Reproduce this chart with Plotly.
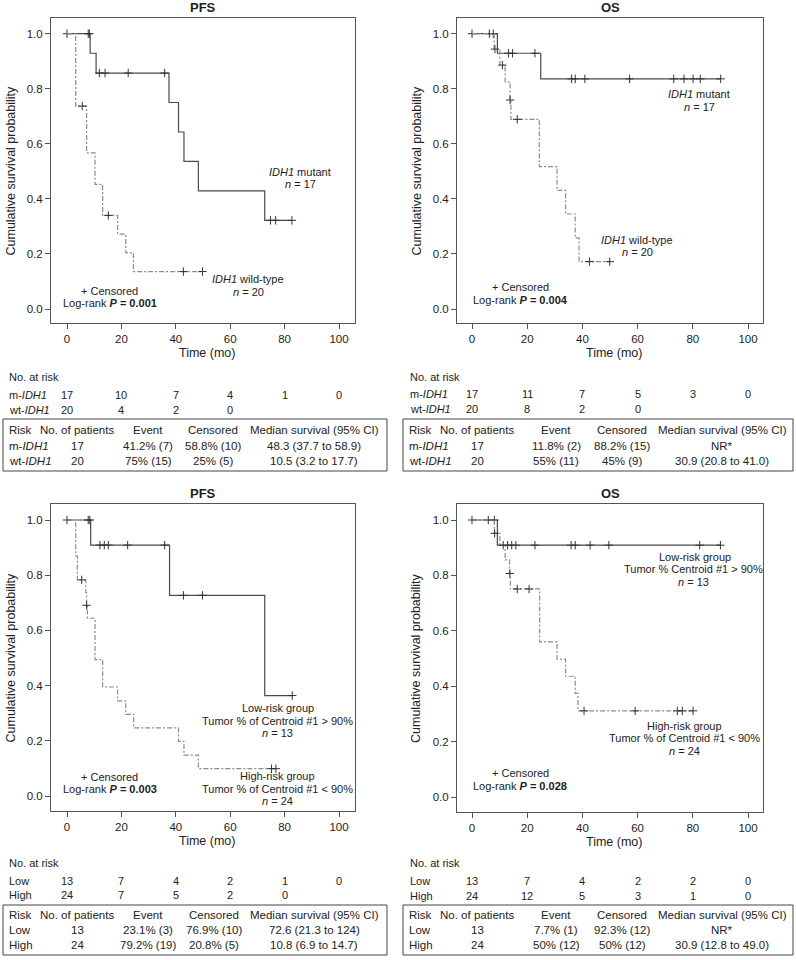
import plotly.graph_objects as go

W, H = 796, 960
FONT = "Liberation Sans, Arial, Helvetica, sans-serif"
TXT = "#222222"
AX = "#555555"
MUT_COLOR = "#4a4a4a"
WT_COLOR = "#8c8c8c"
CENS_COLOR = "#333333"

# ---------------- data ----------------
time_ticks = [0, 20, 40, 60, 80, 100]
surv_ticks = [0.0, 0.2, 0.4, 0.6, 0.8, 1.0]
surv_tick_labels = ["0.0", "0.2", "0.4", "0.6", "0.8", "1.0"]

# Panel 1: PFS by IDH1
pfs_mut_drop_t = [8.5, 10.7, 37.5, 41.0, 43.0, 48.3, 72.7]
pfs_mut_surv = [0.929, 0.857, 0.750, 0.643, 0.536, 0.429, 0.322]
pfs_mut_cens_t = [0, 7.8, 8.2, 11.9, 14.0, 22.5, 35.9, 74.8, 76.7, 82.7]
pfs_wt_drop_t = [3.2, 7.2, 10.3, 13.1, 18.6, 21.6, 24.4]
pfs_wt_surv = [0.737, 0.567, 0.453, 0.340, 0.272, 0.204, 0.136]
pfs_wt_cens_t = [5.6, 15.2, 42.8, 49.8]

# Panel 2: OS by IDH1
os_mut_drop_t = [9.2, 24.9]
os_mut_surv = [0.929, 0.836]
os_mut_cens_t = [0, 6.3, 7.7, 13.2, 14.7, 22.8, 36.1, 37.4, 40.9, 57.1, 73.1, 76.8, 80.1, 82.7, 90.1]
os_wt_drop_t = [8.0, 10.1, 12.0, 13.8, 14.1, 24.4, 30.8, 33.9, 37.4, 38.8]
os_wt_surv = [0.944, 0.886, 0.825, 0.759, 0.689, 0.517, 0.431, 0.345, 0.258, 0.172]
os_wt_cens_t = [8.3, 11.0, 13.8, 16.4, 42.6, 49.9]

# Panel 3: PFS by risk group
pfs_low_drop_t = [8.7, 37.7, 72.7]
pfs_low_surv = [0.909, 0.727, 0.364]
pfs_low_cens_t = [0, 7.8, 8.4, 12.1, 13.7, 15.2, 22.3, 35.9, 42.8, 49.8, 82.8]
pfs_high_drop_t = [3.2, 3.8, 6.9, 7.2, 7.5, 10.3, 13.1, 18.6, 21.6, 24.5, 41.0, 43.0, 48.3]
pfs_high_surv = [0.870, 0.783, 0.737, 0.691, 0.644, 0.494, 0.395, 0.345, 0.296, 0.247, 0.198, 0.148, 0.099]
pfs_high_cens_t = [5.4, 7.2, 75.2, 76.8]

# Panel 4: OS by risk group
os_low_drop_t = [9.2]
os_low_surv = [0.909]
os_low_cens_t = [0, 5.9, 8.1, 12.9, 14.4, 15.9, 22.8, 35.9, 37.4, 42.8, 49.6, 82.5, 90.0]
os_high_drop_t = [8.1, 10.1, 12.0, 13.6, 13.9, 24.5, 30.8, 33.9, 37.4, 38.4]
os_high_surv = [0.952, 0.909, 0.856, 0.807, 0.751, 0.560, 0.498, 0.436, 0.374, 0.311]
os_high_cens_t = [8.2, 11.3, 13.7, 16.4, 20.7, 40.6, 59.1, 74.4, 76.2, 80.1]

# Numbers at risk
risk_times = [0, 20, 40, 60, 80, 100]
pfs_risk_mut = [17, 10, 7, 4, 1, 0]
pfs_risk_wt = [20, 4, 2, 0]
os_risk_mut = [17, 11, 7, 5, 3, 0]
os_risk_wt = [20, 8, 2, 0]
pfs_risk_low = [13, 7, 4, 2, 1, 0]
pfs_risk_high = [24, 7, 5, 2, 0]
os_risk_low = [13, 7, 4, 2, 2, 0]
os_risk_high = [24, 12, 5, 3, 1, 0]

# Summary tables
table_header = ["Risk", "No. of patients", "Event", "Censored", "Median survival (95% CI)"]
pfs_idh_rows = [["m-<i>IDH1</i>", "17", "41.2% (7)", "58.8% (10)", "48.3 (37.7 to 58.9)"],
                ["wt-<i>IDH1</i>", "20", "75% (15)", "25% (5)", "10.5 (3.2 to 17.7)"]]
os_idh_rows = [["m-<i>IDH1</i>", "17", "11.8% (2)", "88.2% (15)", "NR*"],
               ["wt-<i>IDH1</i>", "20", "55% (11)", "45% (9)", "30.9 (20.8 to 41.0)"]]
pfs_grp_rows = [["Low", "13", "23.1% (3)", "76.9% (10)", "72.6 (21.3 to 124)"],
                ["High", "24", "79.2% (19)", "20.8% (5)", "10.8 (6.9 to 14.7)"]]
os_grp_rows = [["Low", "13", "7.7% (1)", "92.3% (12)", "NR*"],
               ["High", "24", "50% (12)", "50% (12)", "30.9 (12.8 to 49.0)"]]

# ---------------- helpers ----------------
def X(px):
    return px / W

def Y(py):
    return 1 - py / H

def step_curve(drop_t, surv, cens_t):
    end = max(max(cens_t) if cens_t else 0, drop_t[-1])
    xs = [0] + list(drop_t) + [end]
    ys = [1.0] + list(surv) + [surv[-1]]
    cy = []
    for t in cens_t:
        s = 1.0
        for dt, sv in zip(drop_t, surv):
            if dt <= t:
                s = sv
        cy.append(s)
    return xs, ys, cy

panels = [
    dict(box=(51, 18, 355, 323), x0=67, x100=339, y1=33.7, y0=309, title="PFS",
         curves=[(pfs_mut_drop_t, pfs_mut_surv, pfs_mut_cens_t, "solid"),
                 (pfs_wt_drop_t, pfs_wt_surv, pfs_wt_cens_t, "dash")]),
    dict(box=(457, 18, 763, 323), x0=472, x100=748, y1=33.7, y0=309, title="OS",
         curves=[(os_mut_drop_t, os_mut_surv, os_mut_cens_t, "solid"),
                 (os_wt_drop_t, os_wt_surv, os_wt_cens_t, "dash")]),
    dict(box=(51, 504, 355, 811), x0=67, x100=339, y1=520, y0=796, title="PFS",
         curves=[(pfs_low_drop_t, pfs_low_surv, pfs_low_cens_t, "solid"),
                 (pfs_high_drop_t, pfs_high_surv, pfs_high_cens_t, "dash")]),
    dict(box=(457, 504, 763, 812), x0=472, x100=748, y1=520, y0=797, title="OS",
         curves=[(os_low_drop_t, os_low_surv, os_low_cens_t, "solid"),
                 (os_high_drop_t, os_high_surv, os_high_cens_t, "dash")]),
]

fig = go.Figure()
layout = dict(
    width=W, height=H, margin=dict(l=0, r=0, t=0, b=0),
    paper_bgcolor="white", plot_bgcolor="white", showlegend=False,
    font=dict(family=FONT, color=TXT, size=11),
)
annotations = []
shapes = []

def ann(text, x, y, xanchor="center", size=11, xref="paper", yref="paper", angle=0):
    annotations.append(dict(text=text, x=x, y=y, xref=xref, yref=yref, xanchor=xanchor,
                            yanchor="middle", showarrow=False, textangle=angle,
                            font=dict(family=FONT, size=size, color=TXT)))

for i, p in enumerate(panels, start=1):
    l, t, r, b = p["box"]
    sx = (p["x100"] - p["x0"]) / 100.0
    sy = (p["y0"] - p["y1"])
    xr = [(l - p["x0"]) / sx, (r - p["x0"]) / sx]
    yr = [(p["y0"] - b) / sy, (p["y0"] - t) / sy]
    sfx = "" if i == 1 else str(i)
    common = dict(ticks="outside", ticklen=5, tickwidth=1, tickcolor=AX, showline=True,
                  linecolor=AX, linewidth=1, mirror=True, showgrid=False, zeroline=False,
                  tickfont=dict(family=FONT, size=11.5, color=TXT), fixedrange=True)
    layout["xaxis" + sfx] = dict(domain=[X(l), X(r)], range=xr, tickvals=time_ticks,
                                 anchor="y" + sfx, **common)
    layout["yaxis" + sfx] = dict(domain=[Y(b), Y(t)], range=yr, tickvals=surv_ticks,
                                 ticktext=surv_tick_labels, anchor="x" + sfx, **common)
    for drop_t, surv, cens_t, style in p["curves"]:
        xs, ys, cy = step_curve(drop_t, surv, cens_t)
        color = MUT_COLOR if style == "solid" else WT_COLOR
        dash = "solid" if style == "solid" else "5px,2px,2px,2px"
        fig.add_trace(go.Scatter(x=xs, y=ys, mode="lines", line_shape="hv",
                                 line=dict(color=color, width=1.2, dash=dash),
                                 xaxis="x" + sfx, yaxis="y" + sfx, hoverinfo="skip"))
        fig.add_trace(go.Scatter(x=cens_t, y=cy, mode="markers",
                                 marker=dict(symbol="cross-thin", size=6,
                                             line=dict(color=CENS_COLOR, width=1)),
                                 xaxis="x" + sfx, yaxis="y" + sfx, hoverinfo="skip"))
    ann("<b>%s</b>" % p["title"], X((l + r) / 2), Y(t - 10), size=13)
    ann("Cumulative survival probability", X(l - 41), Y((t + b) / 2), size=12.5, angle=-90)
    ann("Time (mo)", X((l + r) / 2 + 4), Y(b + 30), size=12.5)

# ---- in-plot annotations ----
ann("<i>IDH1</i> mutant", X(300), Y(172))
ann("<i>n</i> = 17", X(300), Y(184))
ann("<i>IDH1</i> wild-type", X(248), Y(279))
ann("<i>n</i> = 20", X(248), Y(292))
ann("+ Censored", X(110), Y(291))
ann("Log-rank <b><i>P</i> = 0.001</b>", X(110), Y(303))

ann("<i>IDH1</i> mutant", X(699), Y(94))
ann("<i>n</i> = 17", X(699), Y(107))
ann("<i>IDH1</i> wild-type", X(637), Y(240))
ann("<i>n</i> = 20", X(637), Y(252))
ann("+ Censored", X(520), Y(287))
ann("Log-rank <b><i>P</i> = 0.004</b>", X(520), Y(300))

ann("Low-risk group", X(278), Y(708))
ann("Tumor % of Centroid #1 &gt; 90%", X(277), Y(721))
ann("<i>n</i> = 13", X(277), Y(733))
ann("High-risk group", X(277), Y(776))
ann("Tumor % of Centroid #1 &lt; 90%", X(277), Y(789))
ann("<i>n</i> = 24", X(277), Y(801))
ann("+ Censored", X(110), Y(777))
ann("Log-rank <b><i>P</i> = 0.003</b>", X(110), Y(789))

ann("Low-risk group", X(695), Y(557))
ann("Tumor % Centroid #1 &gt; 90%", X(693), Y(569))
ann("<i>n</i> = 13", X(693), Y(582))
ann("High-risk group", X(684), Y(726))
ann("Tumor % of Centroid #1 &lt; 90%", X(684), Y(738))
ann("<i>n</i> = 24", X(684), Y(751))
ann("+ Censored", X(520), Y(773))
ann("Log-rank <b><i>P</i> = 0.028</b>", X(520), Y(786))

# ---- numbers at risk ----
risk_blocks = [
    ("x", 7, 377, [("m-<i>IDH1</i>", pfs_risk_mut, 395), ("wt-<i>IDH1</i>", pfs_risk_wt, 410)]),
    ("x2", 408, 377, [("m-<i>IDH1</i>", os_risk_mut, 394), ("wt-<i>IDH1</i>", os_risk_wt, 409)]),
    ("x3", 7, 863, [("Low", pfs_risk_low, 881), ("High", pfs_risk_high, 895)]),
    ("x4", 408, 863, [("Low", os_risk_low, 881), ("High", os_risk_high, 896)]),
]
for xref, lx, hy, rows in risk_blocks:
    ann("No. at risk", X(lx), Y(hy), xanchor="left")
    for label, vals, ry in rows:
        ann(label, X(lx), Y(ry), xanchor="left")
        for tv, v in zip(risk_times, vals):
            ann(str(v), tv, Y(ry), xref=xref)

# ---- summary tables ----
table_blocks = [
    ((3, 419, 387, 471), [7, 77, 148, 213, 314], [430, 446, 461], pfs_idh_rows),
    ((403, 419, 793, 471), [407, 477, 556, 622, 722], [430, 446, 461], os_idh_rows),
    ((3, 905, 387, 955), [7, 77, 148, 214, 314], [915, 930, 945], pfs_grp_rows),
    ((403, 905, 793, 955), [407, 477, 556, 622, 722], [915, 930, 945], os_grp_rows),
]
for (bl, bt, br, bb), cols, rys, rows in table_blocks:
    shapes.append(dict(type="rect", xref="paper", yref="paper", x0=X(bl), x1=X(br),
                       y0=Y(bb), y1=Y(bt), line=dict(color="#444444", width=1),
                       fillcolor="rgba(0,0,0,0)"))
    for row, ry in zip([table_header] + rows, rys):
        for j, (cell, cx) in enumerate(zip(row, cols)):
            ann(cell, X(cx), Y(ry), xanchor="left" if j == 0 else "center", size=11.5)

layout["annotations"] = annotations
layout["shapes"] = shapes
fig.update_layout(**layout)
fig.write_html("out.html", config={"displayModeBar": False, "staticPlot": True},
               post_script="document.body.style.margin='0';document.body.style.overflow='hidden';")
